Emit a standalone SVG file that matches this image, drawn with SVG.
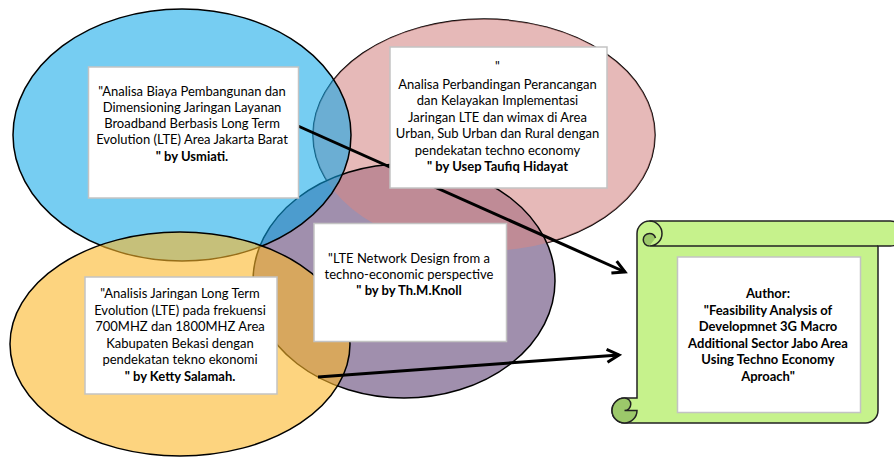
<svg xmlns="http://www.w3.org/2000/svg" width="894" height="457" viewBox="0 0 894 457">
<defs>
<style>
.t{font-family:Lato,"Liberation Sans",sans-serif;font-size:13px;fill:#000;text-anchor:middle}
.b{font-weight:bold}
.box{fill:#fff;stroke:#c3c3c3;stroke-width:1.5}
.conn{stroke:#000;stroke-width:3;fill:none;marker-end:url(#ah)}
.edge{fill:none;stroke:#000;stroke-width:1.5}
.curl{fill:#9cc86a;stroke:#222;stroke-width:1.5}
</style>
<marker id="ah" markerUnits="userSpaceOnUse" markerWidth="20" markerHeight="20" refX="13" refY="7" orient="auto" viewBox="0 0 20 14">
<path d="M1,0.5 L13,7 L1,13.5" fill="none" stroke="#000" stroke-width="3"/>
</marker>
</defs>
<rect width="894" height="457" fill="#fff"/>
<g id="circles">
<ellipse class="edge" cx="484" cy="135" rx="171" ry="116"/>
<ellipse cx="404" cy="281" rx="151" ry="117" fill="#a08fad"/>
<ellipse cx="484" cy="135" rx="171" ry="116" fill="#d48886" fill-opacity="0.59"/>
<ellipse class="edge" cx="404" cy="281" rx="151" ry="117"/>
<ellipse cx="182" cy="135" rx="169" ry="126" fill="#0aa6e8" fill-opacity="0.56" stroke="#000" stroke-width="1.5"/>
<ellipse cx="180" cy="344" rx="170" ry="112" fill="#fcb72a" fill-opacity="0.6" stroke="#000" stroke-width="1.5"/>
</g>
<g id="connectors">
<line class="conn" x1="298" y1="126" x2="625" y2="272"/>
<line class="conn" x1="318" y1="377" x2="619" y2="355"/>
</g>
<g id="node-usmiati">
<rect class="box" x="88.5" y="67" width="210" height="131"/>
<text class="t"><tspan x="192" y="95.5">"Analisa Biaya Pembangunan dan</tspan><tspan x="192" y="111.8">Dimensioning Jaringan Layanan</tspan><tspan x="192" y="128">Broadband Berbasis Long Term</tspan><tspan x="192" y="144.3">Evolution (LTE) Area Jakarta Barat</tspan><tspan x="192" y="160.5" class="b">" by Usmiati.</tspan></text>
</g>
<g id="node-usep">
<rect class="box" x="390" y="47" width="217" height="141"/>
<text class="t"><tspan x="497.5" y="71">"</tspan><tspan x="497.5" y="88.5">Analisa Perbandingan Perancangan</tspan><tspan x="497.5" y="105">dan Kelayakan Implementasi</tspan><tspan x="497.5" y="121.5">Jaringan LTE dan wimax di Area</tspan><tspan x="497.5" y="138">Urban, Sub Urban dan Rural dengan</tspan><tspan x="497.5" y="154.5">pendekatan techno economy</tspan><tspan x="497.5" y="171" class="b">" by Usep Taufiq Hidayat</tspan></text>
</g>
<g id="node-knoll">
<rect class="box" x="314" y="223.5" width="192.5" height="118"/>
<text class="t"><tspan x="409" y="263">"LTE Network Design from a</tspan><tspan x="409" y="279">techno-economic perspective</tspan><tspan x="409" y="295" class="b">" by by Th.M.Knoll</tspan></text>
</g>
<g id="node-ketty">
<rect class="box" x="85" y="277" width="192" height="117"/>
<text class="t"><tspan x="180" y="298">"Analisis Jaringan Long Term</tspan><tspan x="180" y="314.5">Evolution (LTE) pada frekuensi</tspan><tspan x="180" y="331">700MHZ dan 1800MHZ Area</tspan><tspan x="180" y="347.5">Kabupaten Bekasi dengan</tspan><tspan x="180" y="364">pendekatan tekno ekonomi</tspan><tspan x="180" y="380.5" class="b">" by Ketty Salamah.</tspan></text>
</g>
<g id="node-author">
<path d="M637 398 L637 233.5 A12.5 12.5 0 0 1 649.5 221 L890.5 221 A12.5 12.5 0 0 1 890.5 246 L878 246 L878 410.5 A12.5 12.5 0 0 1 865.5 423 L624.5 423 A12.5 12.5 0 0 1 624.5 398 Z" fill="#c6f28c" stroke="#222" stroke-width="1.5"/>
<path class="curl" d="M649.5 246 A6.25 6.25 0 0 1 649.5 233.5 A6.25 6.25 0 0 1 655.5 238"/>
<path d="M649.5 221 A12.5 12.5 0 0 1 649.5 246 L878 246" fill="none" stroke="#222" stroke-width="1.5"/>
<path class="curl" d="M624.5 398 A12.5 12.5 0 0 0 624.5 423 A12.5 12.5 0 0 0 637 410.5 L624.5 410.5 A6.25 6.25 0 0 0 624.5 398 Z"/>
<rect class="box" x="677.5" y="257" width="183" height="155.5"/>
<text class="t b"><tspan x="768" y="298">Author:</tspan><tspan x="768" y="314.5">"Feasibility Analysis of</tspan><tspan x="768" y="331">Developmnet 3G Macro</tspan><tspan x="768" y="347.5">Additional Sector Jabo Area</tspan><tspan x="768" y="364">Using Techno Economy</tspan><tspan x="768" y="380.5">Aproach"</tspan></text>
</g>
</svg>
